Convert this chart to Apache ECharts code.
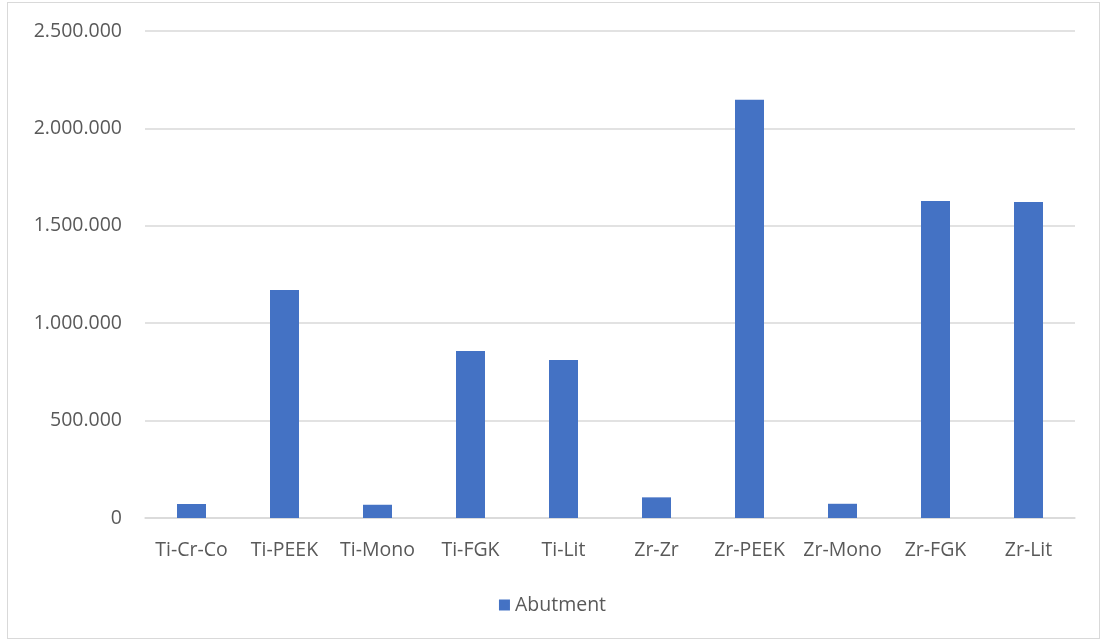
<!DOCTYPE html>
<html>
<head>
<meta charset="utf-8">
<script src="https://cdn.jsdelivr.net/npm/echarts@6/dist/echarts.min.js"></script>
<style>
html,body{margin:0;padding:0;background:#fff;}
#frame{position:absolute;left:7px;top:2px;width:1093px;height:637px;border:1px solid #d9d9d9;box-sizing:border-box;}
#chart{position:absolute;left:0;top:0;width:1105px;height:643px;}
</style>
</head>
<body>
<div id="frame"></div>
<div id="chart"></div>
<script>
const categories = ['Ti-Cr-Co','Ti-PEEK','Ti-Mono','Ti-FGK','Ti-Lit','Zr-Zr','Zr-PEEK','Zr-Mono','Zr-FGK','Zr-Lit'];
const seriesName = 'Abutment';
const abutment = [72000, 1170000, 68000, 857000, 811000, 106000, 2147000, 73000, 1627000, 1622000];

function fmt(v){
  return String(Math.round(v)).replace(/\B(?=(\d{3})+(?!\d))/g, '.');
}

const FONT = '"Open Sans", Lato, sans-serif';
const FS = 19.5;
const chart = echarts.init(document.getElementById('chart'), null, {renderer:'canvas'});
chart.setOption({
  backgroundColor: 'transparent',
  animation: false,
  textStyle: {fontFamily: FONT},
  grid: {left: 145, right: 30, top: 31, bottom: 125, containLabel: false},
  legend: {
    data: [seriesName],
    top: 590,
    left: 'center',
    icon: 'rect',
    itemWidth: 11,
    itemHeight: 11,
    itemGap: 6,
    textStyle: {color: '#595959', fontSize: FS, fontFamily: FONT}
  },
  xAxis: {
    type: 'category',
    data: categories,
    axisLine: {lineStyle: {color: '#d9d9d9', width: 1.5}},
    axisTick: {show: false},
    axisLabel: {color: '#595959', fontSize: FS, margin: 22, interval: 0, fontFamily: FONT}
  },
  yAxis: {
    type: 'value',
    min: 0,
    max: 2500000,
    interval: 500000,
    axisLine: {show: false},
    axisTick: {show: false},
    splitLine: {lineStyle: {color: '#d9d9d9', width: 1.5}},
    axisLabel: {color: '#595959', fontSize: FS, margin: 23, formatter: fmt, fontFamily: FONT}
  },
  series: [{
    name: seriesName,
    type: 'bar',
    data: abutment,
    barWidth: 29,
    itemStyle: {color: '#4472c4'}
  }]
});
</script>
</body>
</html>
